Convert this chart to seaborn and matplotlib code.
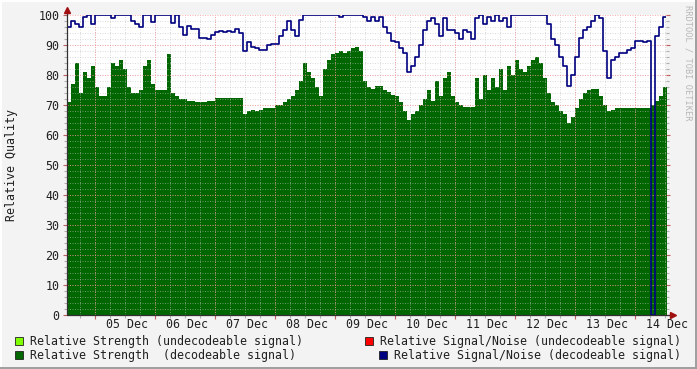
import numpy as np
import pandas as pd
import matplotlib.pyplot as plt
import seaborn as sns
from matplotlib.patches import Rectangle
from matplotlib.lines import Line2D
import matplotlib.transforms as mtransforms

# rrdtool-like quality graph, 10 days, one sample every 1.6 h
day_labels = ['05 Dec', '06 Dec', '07 Dec', '08 Dec', '09 Dec',
              '10 Dec', '11 Dec', '12 Dec', '13 Dec', '14 Dec']
y_ticks = [0, 10, 20, 30, 40, 50, 60, 70, 80, 90, 100]

# relative strength (decodeable signal)
strength = [71, 77, 84, 74, 81, 79, 83, 76, 73, 73,
            76, 84, 83, 85, 82, 76, 74, 74, 75, 83,
            85, 77, 75, 75, 75, 87, 74, 73, 72, 72,
            71.5, 71.5, 71, 71, 71, 71.5, 71.5, 72.5, 72.5, 72.5,
            72.5, 72.5, 72.5, 72.5, 67, 68, 68.5, 68, 68.5, 69,
            69, 69, 70, 70, 71, 72, 73, 75, 78, 84,
            81, 79, 76, 73, 82, 85, 87, 87.5, 88, 87.5,
            88, 89, 89.5, 88, 78, 76, 75.5, 76.5, 76.5, 75,
            74.5, 73.5, 73, 71, 68, 65, 67, 68, 70, 72,
            75, 71.5, 78, 73, 79, 81, 73, 71, 70, 69.5,
            69.5, 69.5, 79, 72, 80, 75, 79, 76, 82, 75,
            83, 80, 85, 82, 81, 83, 85, 86, 84, 79,
            74, 71, 70, 68, 67, 64, 66, 69, 72, 74,
            75, 75.5, 75.5, 73, 70, 68, 68.5, 69, 69, 69,
            69, 69, 69, 69, 69, 69, 70, 71.5, 73, 76]

# relative signal/noise (decodeable signal)
snr = [96, 98, 97, 96, 99.5, 100, 97, 100, 100, 100,
       100, 99, 100, 100, 100, 100, 98, 97, 96, 100,
       100, 97.8, 100, 100, 100, 100, 97.5, 100, 96, 93.5,
       96.5, 95.5, 95.5, 92.5, 92.5, 92, 93.5, 94.5, 94.8, 94.5,
       94.8, 94.5, 95.5, 94, 88, 91, 89.5, 89, 88.3, 88.3,
       90, 90.5, 90.5, 93, 95, 98, 95, 93, 98.5, 100,
       100, 100, 100, 100, 100, 100, 100, 100, 99.5, 100,
       100, 100, 100, 100, 99.5, 98, 99.5, 98, 99.5, 96,
       94, 91.5, 91, 89, 87.5, 81, 83, 86, 90, 95,
       98, 99, 97, 93, 99, 95, 95, 94, 92, 95,
       94.5, 92, 99, 100, 97, 99.5, 98, 100, 98, 99,
       96, 100, 100, 100, 100, 100, 100, 100, 100, 100,
       97, 92, 90, 86, 83, 76.5, 80, 86, 92.5, 95,
       96, 98, 100, 99, 88, 79, 85, 86, 87.5, 87.5,
       88.3, 89, 91.5, 91.5, 91, 91.5, 0, 93, 96, 99.5]

legend_labels = ['Relative Strength (undecodeable signal)',
                 'Relative Signal/Noise (undecodeable signal)',
                 'Relative Strength  (decodeable signal)',
                 'Relative Signal/Noise (decodeable signal)']
legend_colors = ['#80FF00', '#FF0000', '#006600', '#000080']

step = 1 / 15  # days per sample
t = np.arange(len(strength) + 1) * step
df = pd.DataFrame({'t': t,
                   'strength': strength + [strength[-1]],
                   'snr': snr + [snr[-1]]})

sns.set_theme(style='white')
plt.rcParams['font.family'] = ['DejaVu Sans Mono', 'DejaVu Sans']
plt.rcParams['font.size'] = 8.4
FS = 8.4

W, H = 697, 369
fig = plt.figure(figsize=(W / 100, H / 100), dpi=100)
fig.patch.set_facecolor('#F3F3F3')
ax = fig.add_axes([67 / W, 54 / H, 599 / W, 300 / H])
ax.set_facecolor('white')

# area + line
ax.fill_between(df['t'], df['strength'], step='post', color='#006600', lw=0, zorder=1)
sns.lineplot(data=df, x='t', y='snr', drawstyle='steps-post', estimator=None,
             color='#000080', lw=1.2, ax=ax, zorder=3)

xmax = 599 / 60
ax.set_xlim(0, xmax)
ax.set_ylim(0, 100)

# grid (drawn over the area like rrdtool does)
major_x = np.arange(0.467, xmax, 1.0)
minor_x = np.arange(0.217, xmax, 0.25)
for x in minor_x:
    ax.axvline(x, color='#C0C0C0', alpha=0.55, lw=0.72, ls=(0, (1, 1.5)), zorder=2)
for y in np.arange(2, 100, 2):
    ax.axhline(y, color='#C0C0C0', alpha=0.55, lw=0.72, ls=(0, (1, 1.5)), zorder=2)
for x in major_x:
    ax.axvline(x, color='#FF8080', alpha=0.6, lw=0.72, ls=(0, (1, 1.5)), zorder=2)
for y in y_ticks[1:]:
    ax.axhline(y, color='#FF8080', alpha=0.6, lw=0.72, ls=(0, (1, 1.5)), zorder=2)

# ticks
ax.set_xticks(major_x)
ax.set_xticks(minor_x, minor=True)
ax.set_xticklabels([])
ax.set_yticks(y_ticks)
ax.set_yticks(np.arange(0, 101, 2), minor=True)
ax.set_yticklabels([str(v) for v in y_ticks], color='#202020', fontsize=FS)
ax.tick_params(axis='both', which='major', direction='out', length=3, width=0.8,
               color='#C06060', pad=2.5, left=True, bottom=True, right=True,
               labelsize=FS)
ax.tick_params(axis='both', which='minor', direction='out', length=2, width=0.8,
               color='#B0B0B0', left=True, bottom=True, right=True)
ax.set_xlabel('')
ax.set_ylabel('')

trans = mtransforms.blended_transform_factory(ax.transData, ax.transAxes)
for i, lab in enumerate(day_labels):
    ax.text(i + 1, -0.03, lab, transform=trans, ha='center', va='center',
            color='#202020', fontsize=FS)

for s in ax.spines.values():
    s.set_visible(False)

# axes with arrows
ax.plot([0, 0], [0, 1.015], transform=ax.transAxes, color='#303030', lw=0.9,
        clip_on=False, zorder=4)
ax.plot([0, 1.01], [0, 0], transform=ax.transAxes, color='#303030', lw=0.9,
        clip_on=False, zorder=4)
ax.plot([0], [1.017], marker='^', ms=4.5, color='#A01010', transform=ax.transAxes,
        clip_on=False, zorder=5)
ax.plot([1.012], [0], marker='>', ms=4.5, color='#A01010', transform=ax.transAxes,
        clip_on=False, zorder=5)

fig.text(12 / W, 1 - 165 / H, 'Relative Quality', rotation=90, ha='center', va='center',
         color='#202020', fontsize=FS)
fig.text(688 / W, 1 - 5 / H, 'RRDTOOL / TOBI OETIKER', rotation=270, ha='center', va='top',
         color='#B8B8B8', fontsize=6.2)

# legend, rrdtool style
def legend_item(bx, ty, color, label, ha='left', tx=None):
    fig.patches.append(Rectangle((bx / W, 1 - (ty + 4) / H), 8 / W, 8 / H,
                                 transform=fig.transFigure, facecolor=color,
                                 edgecolor='#202020', lw=0.6))
    if tx is None:
        tx = bx + 15
    fig.text(tx / W, 1 - ty / H, label, ha=ha, va='center', color='#202020', fontsize=FS)

legend_item(15, 341, legend_colors[0], legend_labels[0])
legend_item(365, 341, legend_colors[1], legend_labels[1], ha='right', tx=681)
legend_item(15, 355, legend_colors[2], legend_labels[2])
legend_item(379, 355, legend_colors[3], legend_labels[3], ha='right', tx=681)

# 3d-ish frame
fig.lines.append(Line2D([0, 1], [1 - 0.5 / H, 1 - 0.5 / H], transform=fig.transFigure,
                        color='white', lw=1.4))
fig.lines.append(Line2D([0.5 / W, 0.5 / W], [0, 1], transform=fig.transFigure,
                        color='white', lw=1.4))
fig.lines.append(Line2D([0, 1], [1.0 / H, 1.0 / H], transform=fig.transFigure,
                        color='#9E9E9E', lw=1.4))
fig.lines.append(Line2D([1 - 1.0 / W, 1 - 1.0 / W], [0, 1], transform=fig.transFigure,
                        color='#9E9E9E', lw=1.4))

fig.savefig('out.png', dpi=100, facecolor=fig.get_facecolor())
